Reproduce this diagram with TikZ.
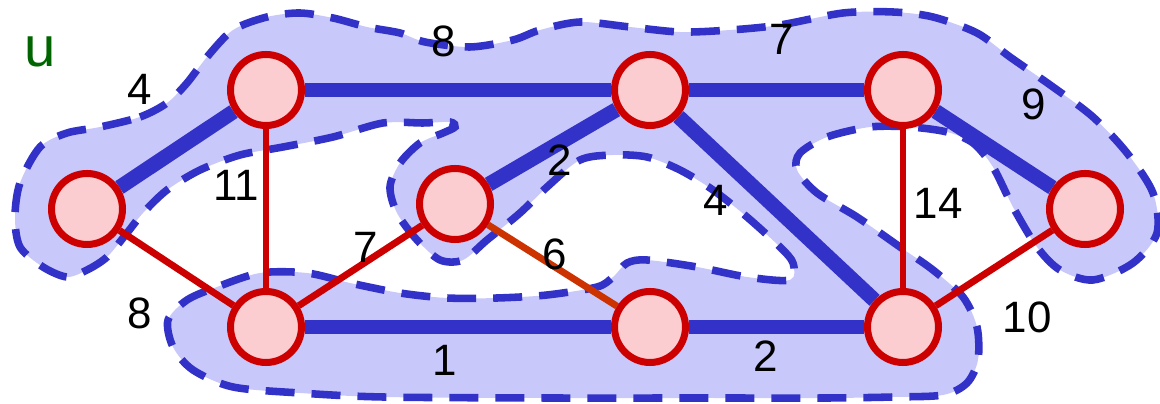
\documentclass[tikz,border=0pt]{standalone}
\usepackage{fontspec}
\setmainfont{Liberation Sans}
\usetikzlibrary{backgrounds}
\definecolor{TreeBlue}{RGB}{50,50,200}
\definecolor{BlobFill}{RGB}{200,200,250}
\definecolor{EdgeRed}{RGB}{204,0,0}
\definecolor{SixEdge}{RGB}{204,51,0}
\definecolor{VtxFill}{RGB}{251,205,208}
\definecolor{CutGreen}{RGB}{0,100,0}

\begin{document}
\begin{tikzpicture}[
    x=0.02cm, y=-0.02cm,
    vtx/.style={circle, draw=EdgeRed, fill=VtxFill, line width=4pt,
        minimum size=1.42cm, inner sep=0pt},
    tree/.style={TreeBlue, line width=8.5pt},
    other/.style={EdgeRed, line width=3.9pt},
    wt/.style={font=\fontsize{25}{27}\selectfont, text=black, inner sep=0pt},
    blob/.style={fill=BlobFill, draw=TreeBlue, line width=4.3pt,
        dash pattern=on 0.58cm off 0.34cm}
]
\useasboundingbox (0,0) rectangle (1160,404);
% vertices
\node[vtx] (a) at (87,209)  {};
\node[vtx] (b) at (266,90)  {};
\node[vtx] (c) at (266,327) {};
\node[vtx] (d) at (455,204) {};
\node[vtx] (e) at (650,90)  {};
\node[vtx] (f) at (650,327) {};
\node[vtx] (g) at (903,90)  {};
\node[vtx] (h) at (903,327) {};
\node[vtx] (i) at (1085,209) {};
% weights
\node[wt] (w-ab) at (140,89)  {4};
\node[wt] (w-bc) at (236,185) {11};
\node[wt] (w-ac) at (140,313) {8};
\node[wt] (w-cd) at (366,247) {7};
\node[wt] (w-be) at (444,41)  {8};
\node[wt] (w-de) at (560,160) {2};
\node[wt] (w-eh) at (716,200) {4};
\node[wt] (w-df) at (555,254) {6};
\node[wt] (w-cf) at (445,360) {1};
\node[wt] (w-fh) at (766,356) {2};
\node[wt] (w-eg) at (782,39)  {7};
\node[wt] (w-gi) at (1034,104) {9};
\node[wt] (w-gh) at (938,203) {14};
\node[wt] (w-hi) at (1027,317) {10};
\node[font=\fontsize{32}{34}\selectfont, text=CutGreen, inner sep=0pt] (u) at (40,52) {u};

\begin{scope}[on background layer]
% the cut region
\draw[blob] plot[smooth cycle] coordinates {
    (100,127) (140,117) (167,103) (187,83) (207,57) (233,30) (267,17)
    (300,13) (333,18) (367,27) (400,33) (425,42) (470,47) (513,40)
    (540,30) (580,22) (630,27) (680,32) (730,30) (780,25) (843,13)
    (893,12) (933,17) (977,33) (1010,57) (1053,87) (1093,117)
    (1127,153) (1153,193) (1157,233) (1133,263) (1093,280) (1060,270)
    (1037,247) (1013,207) (993,167) (973,143) (947,132) (910,127)
    (870,127) (827,137) (800,153) (797,170) (817,193) (857,217)
    (900,247) (933,270) (963,297) (977,327) (978,360) (967,383)
    (943,395) (893,397) (827,398) (700,398) (550,398) (383,397)
    (300,393) (233,387) (193,370) (173,347) (168,320) (187,300)
    (217,287) (260,273) (307,273) (350,283) (400,293) (447,298)
    (497,298) (547,295) (597,287) (613,277) (627,263) (647,260)
    (697,267) (747,277) (790,280) (793,263) (780,247) (747,217)
    (713,190) (680,170) (647,157) (613,155) (580,160) (547,187)
    (520,213) (487,240) (463,260) (440,260) (417,240) (397,213)
    (390,187) (400,163) (420,143) (443,133) (455,127) (450,122)
    (423,123) (383,123) (333,137) (283,147) (240,155) (200,170)
    (167,190) (143,213) (127,233) (107,257) (87,270) (67,277)
    (43,267) (20,247) (15,217) (20,183) (40,147) (67,133)};
% tree edges
\draw[tree] (a) -- (b); \draw[tree] (b) -- (e); \draw[tree] (e) -- (g);
\draw[tree] (g) -- (i); \draw[tree] (d) -- (e); \draw[tree] (e) -- (h);
\draw[tree] (c) -- (f); \draw[tree] (f) -- (h);
% other edges
\draw[other] (b) -- (c); \draw[other] (a) -- (c); \draw[other] (c) -- (d);
\draw[other] (g) -- (h); \draw[other] (h) -- (i);
\draw[other, SixEdge] (d) -- (f);
\end{scope}
\end{tikzpicture}
\end{document}
